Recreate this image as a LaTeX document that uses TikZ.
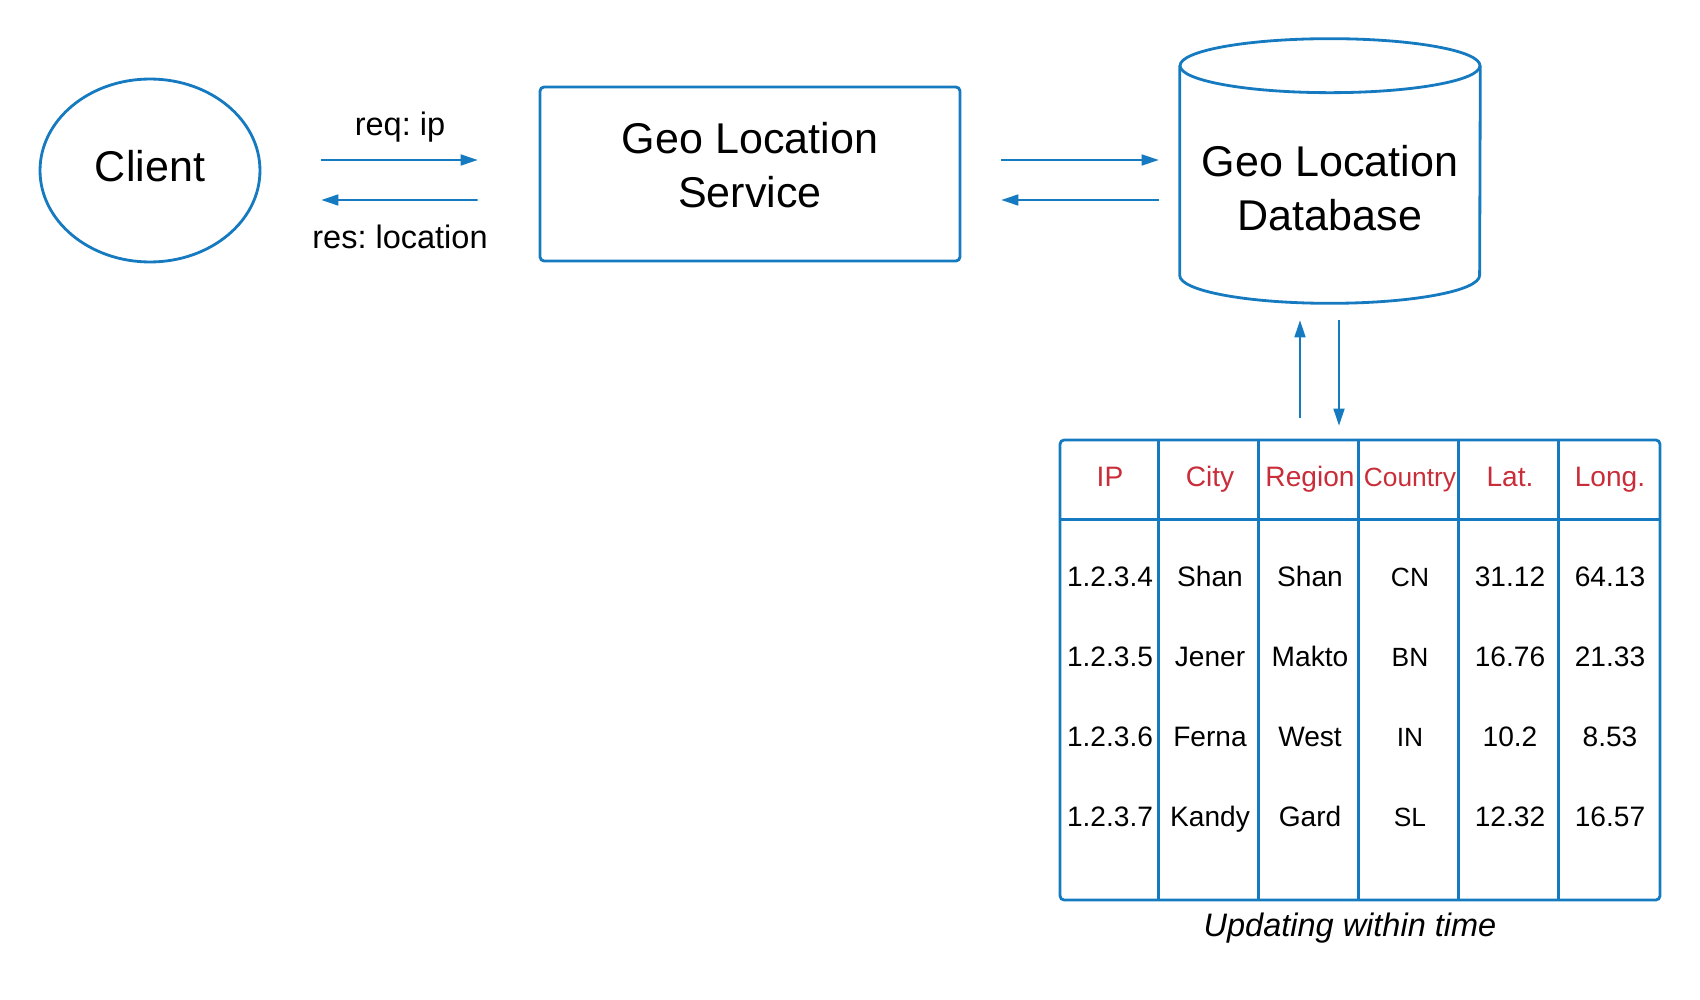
\documentclass[tikz,border=0pt]{standalone}
\usepackage{fontspec}
\setmainfont{Liberation Sans}
\frenchspacing
\usetikzlibrary{calc}
\usetikzlibrary{shapes.geometric}
\usetikzlibrary{arrows.meta}
\definecolor{lineblue}{RGB}{22,122,193}
\definecolor{headred}{RGB}{201,45,57}
\newcommand{\bigfont}{\fontsize{24.5}{30.5}\selectfont}
\newcommand{\msgfont}{\fontsize{18.5}{22}\selectfont}
\tikzset{
  outline/.style={draw=lineblue, line width=1.6pt},
  flow/.style={draw=lineblue, line width=1pt, -{Triangle[length=0.34cm, width=0.22cm]}},
  clientshape/.style={outline, ellipse, minimum width=4.4cm, minimum height=3.66cm, inner sep=0pt, text depth=0.2cm, font=\bigfont},
  svcbox/.style={outline, rounded corners=0.08cm, minimum width=8.4cm, minimum height=3.48cm},
  dbbody/.style={minimum width=6cm, minimum height=5.28cm, inner sep=0pt},
  tblbox/.style={outline, rounded corners=0.08cm, minimum width=12cm, minimum height=9.2cm, inner sep=0pt},
  bigtext/.style={font=\bigfont, align=center},
  msg/.style={font=\msgfont, anchor=base},
  cell/.style={anchor=base},
}

\begin{document}
\begin{tikzpicture}[x=0.02cm, y=-0.02cm]
    \useasboundingbox (0,0) rectangle (1700,1000);
    % shapes
    \node[clientshape] (client) at (150,170.5) {Client};
    \node[svcbox] (svc) at (750,174) {};
    \node[bigtext] (svcname) at (750,165) {Geo Location\\Service};
    \node[dbbody] (db) at (1330,171) {};
    \draw[outline] ($(db.north west)+(0,27)$) -- ($(db.south west)+(0,-28)$)
      arc[start angle=180, end angle=360, x radius=3cm, y radius=0.56cm] -- ($(db.north east)+(0,27)$);
    \draw[outline] ($(db.north)+(0,27)$) ellipse[x radius=3cm, y radius=0.54cm];
    \node[bigtext] (dbname) at (1330,188) {Geo Location\\Database};
    % messages
    \node[msg] (req) at (400,136) {req: ip};
    \node[msg] (res) at (400,249) {res: location};
    \draw[flow] ($(client.east)+(60,-10.5)$) -- ($(svc.west)+(-61,-14)$);
    \draw[flow] ($(svc.west)+(-61,26)$) -- ($(client.east)+(60,29.5)$);
    \draw[flow] ($(svc.east)+(40,-14)$) -- ($(db.west)+(-21,-11)$);
    \draw[flow] ($(db.west)+(-21,29)$) -- ($(svc.east)+(40,26)$);
    % table
    \node[tblbox] (tbl) at (1360,670) {};
    \draw[flow] ($(tbl.north)+(-60,-21)$) -- ($(db.south)+(-30,17)$);
    \draw[flow] ($(db.south)+(9,17)$) -- ($(tbl.north)+(-21,-13)$);
    \draw[outline] ($(tbl.north west)+(0,81)$) -- ($(tbl.north east)+(0,81)$);
    \foreach \i in {1,...,5}
      \draw[outline] ($(tbl.north west)+(100*\i,0)$) -- ($(tbl.south west)+(100*\i,0)$);
    \foreach \h/\s [count=\c] in {IP/16,City/16,Region/16,Country/15,Lat./16,Long./16}
      \node[cell, text=headred, font=\fontsize{\s}{19}\selectfont] (head\c) at (1010+100*\c,486) {\h};
    \foreach \ip/\city/\reg/\cty/\lat/\lon [count=\r] in
      {1.2.3.4/Shan/Shan/CN/31.12/64.13, 1.2.3.5/Jener/Makto/BN/16.76/21.33,
       1.2.3.6/Ferna/West/IN/10.2/8.53, 1.2.3.7/Kandy/Gard/SL/12.32/16.57} {
      \node[cell, font=\fontsize{16}{19}\selectfont] (ip\r) at (1110,506+80*\r) {\ip};
      \node[cell, font=\fontsize{16}{19}\selectfont] (city\r) at (1210,506+80*\r) {\city};
      \node[cell, font=\fontsize{16}{19}\selectfont] (reg\r) at (1310,506+80*\r) {\reg};
      \node[cell, font=\fontsize{15}{19}\selectfont] (cty\r) at (1410,506+80*\r) {\cty};
      \node[cell, font=\fontsize{16}{19}\selectfont] (lat\r) at (1510,506+80*\r) {\lat};
      \node[cell, font=\fontsize{16}{19}\selectfont] (lon\r) at (1610,506+80*\r) {\lon};
    }
    \node[msg, font=\msgfont\itshape] (caption) at (1350,936) {Updating within time};
  \end{tikzpicture}
\end{document}
